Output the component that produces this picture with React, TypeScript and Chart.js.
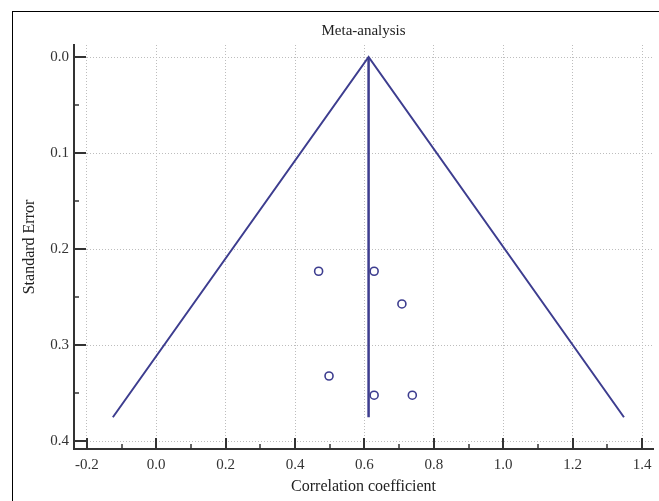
import React, { useEffect, useRef } from "react";
import { Chart, registerables } from "chart.js";

Chart.register(...registerables);

// Study data (correlation coefficient vs standard error)
const studyEffect = [0.468, 0.628, 0.708, 0.498, 0.628, 0.738];
const studySE = [0.223, 0.223, 0.257, 0.332, 0.352, 0.352];

// Pooled estimate and funnel limits
const pooledEffect = 0.612;
const funnelSE = [0.375, 0, 0.375];
const funnelX = [-0.125, 0.612, 1.348];
const pooledLineSE = [0, 0.375];

// Axis ticks
const xMajorTicks = [-0.2, 0, 0.2, 0.4, 0.6, 0.8, 1.0, 1.2, 1.4];
const xMinorTicks = [-0.1, 0.1, 0.3, 0.5, 0.7, 0.9, 1.1, 1.3];
const yMajorTicks = [0, 0.1, 0.2, 0.3, 0.4];
const yMinorTicks = [0.05, 0.15, 0.25, 0.35];

const NAVY = "#3d3d8f";
const AXIS = "#333333";
const FONT = "'Liberation Serif', 'Times New Roman', serif";

const inwardTicks = {
  id: "inwardTicks",
  afterDraw(chart: any) {
    const { ctx, chartArea, scales } = chart;
    const xs = scales.x;
    const ys = scales.y;
    ctx.save();
    ctx.strokeStyle = AXIS;
    const line = (x1: number, y1: number, x2: number, y2: number, w: number) => {
      ctx.lineWidth = w;
      ctx.beginPath();
      ctx.moveTo(x1, y1);
      ctx.lineTo(x2, y2);
      ctx.stroke();
    };
    xMajorTicks.forEach((v) => {
      const p = Math.round(xs.getPixelForValue(v));
      line(p, chartArea.bottom, p, chartArea.bottom - 11, 2);
    });
    xMinorTicks.forEach((v) => {
      const p = Math.round(xs.getPixelForValue(v));
      line(p, chartArea.bottom, p, chartArea.bottom - 5, 1.5);
    });
    yMajorTicks.forEach((v) => {
      const p = Math.round(ys.getPixelForValue(v));
      line(chartArea.left, p, chartArea.left + 12, p, 2);
    });
    yMinorTicks.forEach((v) => {
      const p = Math.round(ys.getPixelForValue(v));
      line(chartArea.left, p, chartArea.left + 5, p, 1.5);
    });
    ctx.restore();
  },
};

export default function App() {
  const ref = useRef<HTMLCanvasElement | null>(null);

  useEffect(() => {
    if (!ref.current) return;
    const chart = new Chart(ref.current, {
      type: "scatter",
      data: {
        datasets: [
          {
            label: "Funnel",
            data: funnelX.map((x, i) => ({ x, y: funnelSE[i] })),
            showLine: true,
            borderColor: NAVY,
            borderWidth: 2,
            pointRadius: 0,
            fill: false,
            order: 3,
          },
          {
            label: "Pooled",
            data: pooledLineSE.map((y) => ({ x: pooledEffect, y })),
            showLine: true,
            borderColor: NAVY,
            borderWidth: 2.5,
            pointRadius: 0,
            fill: false,
            order: 2,
          },
          {
            label: "Studies",
            data: studyEffect.map((x, i) => ({ x, y: studySE[i] })),
            showLine: false,
            pointStyle: "circle",
            pointRadius: 4,
            pointBorderWidth: 1.6,
            pointBorderColor: NAVY,
            pointBackgroundColor: "rgba(255,255,255,1)",
            borderColor: NAVY,
            backgroundColor: "rgba(255,255,255,1)",
            order: 1,
          },
        ],
      },
      options: {
        animation: false,
        responsive: false,
        maintainAspectRatio: false,
        layout: { padding: { left: 0, right: 4, top: 0, bottom: 0 } },
        plugins: {
          legend: { display: false },
          tooltip: { enabled: false },
          title: {
            display: true,
            text: "Meta-analysis",
            fullSize: false,
            color: "#222",
            font: { family: FONT, size: 15, weight: "normal" },
            padding: { top: 22.5, bottom: 4.5 },
          },
        },
        scales: {
          x: {
            type: "linear",
            min: -0.237,
            max: 1.432,
            afterFit: (s: any) => {
              s.height = 52;
            },
            ticks: {
              stepSize: 0.2,
              includeBounds: false,
              padding: 7.5,
              color: "#333",
              font: { family: FONT, size: 15 },
              callback: (v: any) => Number(v).toFixed(1),
            },
            grid: {
              color: "#bdbdbd",
              lineWidth: 1,
              drawTicks: false,
            },
            border: { display: true, color: AXIS, width: 2, dash: [1, 2] },
            title: {
              display: true,
              text: "Correlation coefficient",
              color: "#222",
              font: { family: FONT, size: 16 },
              padding: { top: 0, bottom: 4.5 },
            },
          },
          y: {
            type: "linear",
            reverse: true,
            min: -0.0125,
            max: 0.408,
            afterFit: (s: any) => {
              s.width = 74;
            },
            ticks: {
              stepSize: 0.1,
              includeBounds: false,
              padding: 5,
              color: "#333",
              font: { family: FONT, size: 15 },
              callback: (v: any) => Number(v).toFixed(1),
            },
            grid: {
              color: "#bdbdbd",
              lineWidth: 1,
              drawTicks: false,
            },
            border: { display: true, color: AXIS, width: 2, dash: [1, 2] },
            title: {
              display: true,
              text: "Standard Error",
              color: "#222",
              font: { family: FONT, size: 16 },
              padding: { top: 20.5, bottom: 0 },
            },
          },
        },
      },
      plugins: [inwardTicks],
    });
    return () => chart.destroy();
  }, []);

  return (
    <div
      style={{
        position: "absolute",
        left: 0,
        top: 0,
        width: 659,
        height: 501,
        overflow: "hidden",
        background: "#fff",
      }}
    >
      <div
        style={{
          position: "absolute",
          left: 12,
          top: 11,
          width: 800,
          height: 700,
          borderLeft: "1px solid #000",
          borderTop: "1px solid #000",
        }}
      />
      <canvas
        ref={ref}
        width={659}
        height={501}
        style={{ position: "absolute", left: 0, top: 0, width: 659, height: 501 }}
      />
    </div>
  );
}
